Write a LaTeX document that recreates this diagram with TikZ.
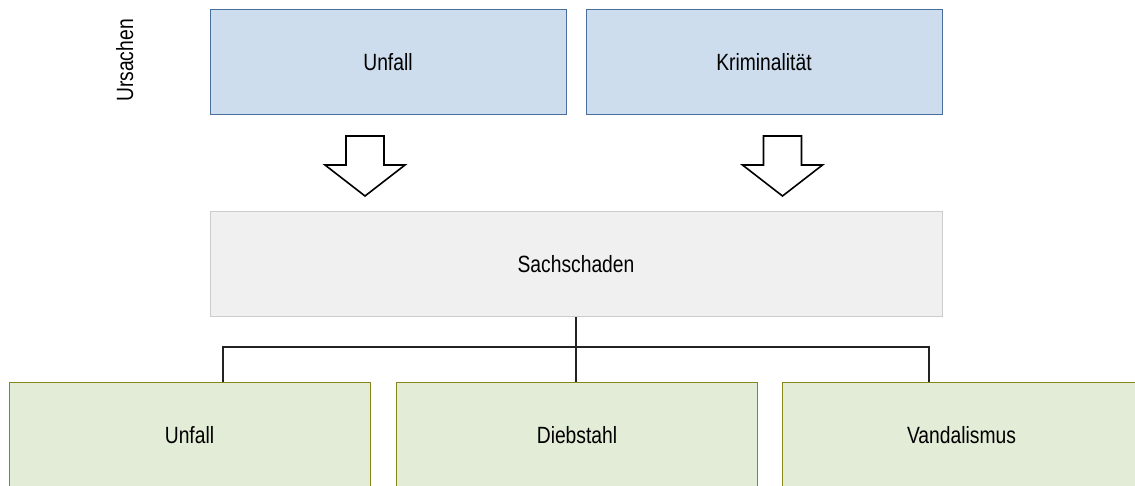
\documentclass[tikz,border=0pt]{standalone}
\usepackage{fontspec}
\setmainfont{Liberation Sans}[FakeStretch=0.82]
\definecolor{bluefill}{HTML}{CEDDED}
\definecolor{blueline}{HTML}{4A6F9C}
\definecolor{grayfill}{HTML}{F0F0F0}
\definecolor{grayline}{HTML}{CCCCCC}
\definecolor{greenfill}{HTML}{E2ECD6}
\definecolor{greenline}{HTML}{86861A}
\definecolor{conline}{HTML}{222222}
\tikzset{
  boxbase/.style={rectangle, inner sep=0pt, line width=1pt, minimum height=105pt,
    font=\fontsize{23.5}{28}\selectfont, text=black},
  causebox/.style={boxbase, draw=blueline, fill=bluefill, minimum width=356pt},
  damagebox/.style={boxbase, draw=grayline, fill=grayfill, minimum width=732pt},
  kindbox/.style={boxbase, draw=greenline, fill=greenfill, minimum width=361pt, minimum height=106pt},
  conn/.style={draw=conline, line width=1.2pt},
  blockarrow/.style={draw=black, fill=white, line width=1.6pt, line join=miter}
}
\begin{document}
\begin{tikzpicture}[x=1pt, y=-1pt]
\useasboundingbox (0,0) rectangle (1135,486);
\clip (0,0) rectangle (1135,486);
\node[rotate=90, anchor=base, font=\fontsize{23.5}{28}\selectfont] (ursachen) at (133,60.5) {Ursachen};
\node[causebox] (unfallT) at (388,62.5) {Unfall};
\node[causebox] (krim) at (764,62.5) {Kriminalität};
\node[damagebox] (sach) at (576,264.5) {Sachschaden};
\node[kindbox] (unfallB) at (189.5,435) {Unfall};
\node[kindbox] (dieb) at (577,435) {Diebstahl};
\node[kindbox, minimum width=359pt] (vand) at (961.5,435) {Vandalismus};
% block arrows
\foreach \cx/\nm in {365/arL, 782.5/arR}{
  \coordinate (\nm) at (\cx,136);
  \draw[blockarrow] ([xshift=-19pt]\nm) -- ([xshift=19pt]\nm) -- ([xshift=19pt,yshift=-29pt]\nm)
    -- ([xshift=40pt,yshift=-29pt]\nm) -- ([yshift=-60pt]\nm) -- ([xshift=-40pt,yshift=-29pt]\nm)
    -- ([xshift=-19pt,yshift=-29pt]\nm) -- cycle;
}
% connectors
\coordinate (jL) at (223,347);
\coordinate (jM) at (576,347);
\coordinate (jR) at (929,347);
\draw[conn] (sach.south) -- (jM) -- (jM |- dieb.north);
\draw[conn] (jL |- unfallB.north) -- (jL) -- (jR) -- (jR |- vand.north);
\end{tikzpicture}
\end{document}
